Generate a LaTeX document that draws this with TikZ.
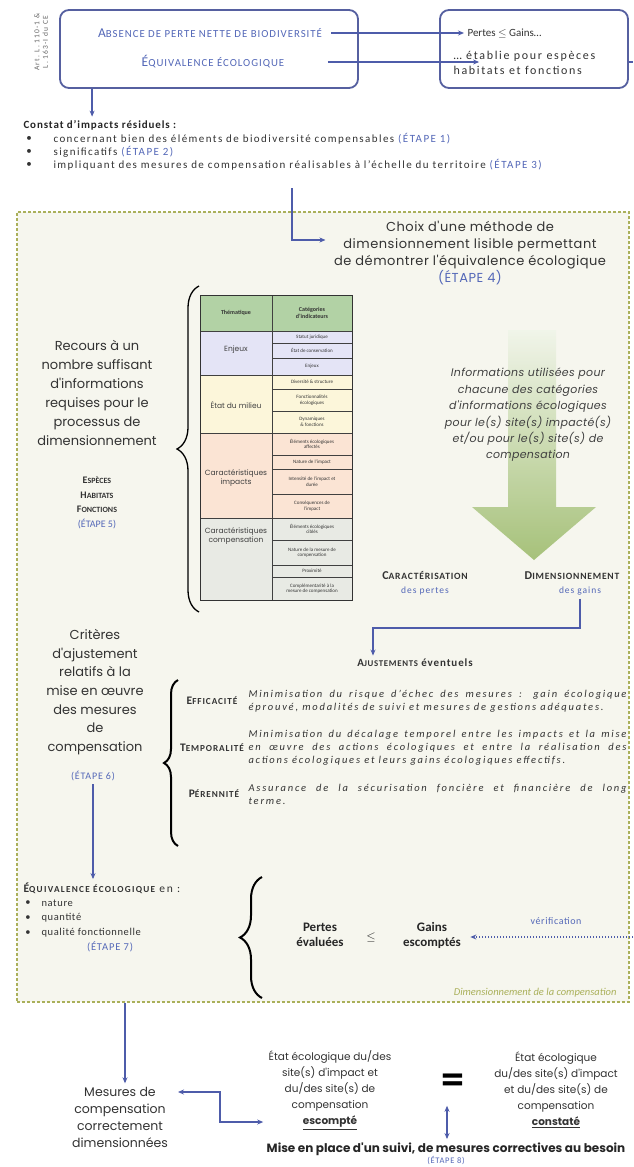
\documentclass[tikz,border=0pt]{standalone}
\usepackage{fontspec}
\setmainfont{Carlito}
\newfontfamily\gothic{Poppins}
\usetikzlibrary{arrows.meta,decorations.pathreplacing,positioning}

\definecolor{bleuetape}{RGB}{84,104,184}
\definecolor{bleutrait}{RGB}{78,92,170}
\definecolor{cadre}{RGB}{86,96,160}
\definecolor{olive}{RGB}{170,176,90}
\definecolor{fondzone}{RGB}{246,246,238}
\definecolor{vertfleche}{RGB}{158,188,110}
\definecolor{entete}{RGB}{178,210,165}
\definecolor{lilas}{RGB}{228,228,246}
\definecolor{creme}{RGB}{252,246,218}
\definecolor{peche}{RGB}{251,228,212}
\definecolor{grisclair}{RGB}{232,234,228}

\newcommand\etape[1]{\textcolor{bleuetape}{(ÉTAPE~#1)}}
\newcommand\esp[1]{\addfontfeature{LetterSpace=#1}}
\makeatletter
\newcommand\pc[1]{{\@tempdima=\f@size pt\@tempdima=0.8\@tempdima
  \fontsize{\strip@pt\@tempdima}{\f@baselineskip}\selectfont #1}}
\makeatother

\begin{document}
\begin{tikzpicture}[x=1pt, y=-1pt,
  fleche/.style={-{Stealth[length=6pt,width=5pt]}, draw=bleutrait, line width=1.4pt},
  dblfleche/.style={{Stealth[length=6pt,width=5pt]}-{Stealth[length=6pt,width=5pt]}, draw=bleutrait, line width=1.4pt},
  cadrebleu/.style={draw=cadre, line width=1.8pt, rounded corners=9pt},
  gros/.style={font=\gothic\fontsize{13}{19}\selectfont, align=center, text=black!80},
  petit/.style={font=\fontsize{11}{13}\selectfont\esp{13}, text=black!80},
  cellule/.style={font=\fontsize{5}{5.6}\selectfont, align=center, inner sep=0pt, text=black!80},
  theme/.style={font=\gothic\fontsize{7.5}{9}\selectfont, align=center, text=black!75},
  critere/.style={font=\bfseries\fontsize{11.5}{12}\selectfont\esp{10}, text=black!80},
  desc/.style={font=\itshape\fontsize{10.5}{13}\selectfont\esp{17}, text width=378pt, align=justify, anchor=west, text=black!80},
  accolade/.style={decorate, decoration={brace, amplitude=#1}, line width=1.6pt}]

\useasboundingbox (0,0) rectangle (633,1167);
\fill[white] (0,0) rectangle (633,1167);

% Cadre du haut
\node[rotate=90, font=\fontsize{7.5}{8.5}\selectfont\esp{15}, align=center, text=black!60] (article) at (41,42) {Art. L. 110-1 \&\\L. 163-I du CE};
\node[cadrebleu, minimum width=298, minimum height=78] (boite1) at (209,49) {};
\node[font=\fontsize{13.5}{14}\selectfont\esp{9}, text=bleuetape] (absence) at (210,33) {A\pc{BSENCE DE PERTE NETTE DE BIODIVERSITÉ}};
\node[font=\fontsize{13.5}{14}\selectfont\esp{9}, text=bleuetape] (equiv) at (213,62) {É\pc{QUIVALENCE ÉCOLOGIQUE}};
\node[cadrebleu, minimum width=188, minimum height=78] (boite2) at (534,49) {};
\node[font=\fontsize{11}{13}\selectfont, text=black!80, anchor=west] (pertesgains) at (464,33) {Pertes $\leq$ Gains…};
\node[font=\fontsize{12}{15}\selectfont\esp{14}, text=black!80, align=left, anchor=west] (etablie) at (450,63) {… établie pour espèces\\habitats et fonctions};
\draw[fleche] ([xshift=6pt]absence.east) -- (pertesgains.west);
\draw[fleche] ([xshift=40pt]equiv.east) -- ([xshift=40pt]equiv.east -| boite2.west);
\coordinate (bordd) at (633,62);
\draw[bleutrait, line width=1.4pt] (boite2.east |- bordd) -- (bordd);

% Constat
\node[font=\bfseries\fontsize{11}{13}\selectfont\esp{8}, text=black!85, anchor=west] (constat) at (20,125) {Constat d'impacts résiduels :};
\draw[fleche] ([xshift=33pt]boite1.south west) -- ([xshift=33pt]boite1.south west |- constat.north);
\node[petit] (puce1) at (29,139) {•};
\node[petit, anchor=west] (ligne1) at (50,139) {concernant bien des éléments de biodiversité compensables \etape{1}};
\node[petit] (puce2) at (29,152) {•};
\node[petit, anchor=west] (ligne2) at (50,152) {significatifs \etape{2}};
\node[petit] (puce3) at (29,165) {•};
\node[petit, anchor=west] (ligne3) at (50,165) {impliquant des mesures de compensation réalisables à l'échelle du territoire \etape{3}};

% Zone de dimensionnement
\node[draw=olive, fill=fondzone, dash pattern=on 3pt off 2pt, line width=1.2pt, minimum width=612, minimum height=790] (zone) at (323,607) {};
\node[gros, font=\gothic\fontsize{13}{17}\selectfont\esp{4}] (choix) at (470,253) {Choix d'une méthode de\\dimensionnement lisible permettant\\de démontrer l'équivalence écologique\\\etape{4}};
\coordinate (depart) at (292,188);
\draw[fleche] (depart) |- ([xshift=-5pt]choix.west |- 0,240);

\node[gros] (recours) at (97,393) {Recours à un\\nombre suffisant\\d'informations\\requises pour le\\processus de\\dimensionnement};
\node[font=\bfseries\fontsize{10}{14.5}\selectfont, align=center, text=black!80] (especes) at (97,503) {E\pc{SPÈCES}\\H\pc{ABITATS}\\F\pc{ONCTIONS}\\\mdseries\etape{5}};
\draw[accolade=22, line width=1.3pt] (199,612) -- (199,286);

% Tableau
\fill[entete] (200,295) rectangle (352,331);
\draw[black!75, line width=0.7pt] (272,295) -- (272,331);
\node[font=\bfseries\fontsize{6}{7}\selectfont, text=black!80] (thema) at (236,313) {Thématique};
\node[font=\bfseries\fontsize{6}{7}\selectfont, align=center, text=black!80] (categ) at (312,313) {Catégories\\d'indicateurs};
\foreach \ya/\yb/\coul in {331/375/lilas, 375/433/creme, 433/518/peche, 518/600/grisclair} {
  \filldraw[fill=\coul, draw=black!75, line width=0.7pt] (200,\ya) rectangle (272,\yb);
}
\node[theme] (enjeux) at (236,350) {Enjeux};
\node[theme] (milieu) at (236,405) {État du milieu};
\node[theme] (impacts) at (236,478) {Caractéristiques\\impacts};
\node[theme] (compens) at (236,536) {Caractéristiques\\compensation};
\foreach \ya/\yb/\coul/\txt [count=\i] in {
  331/343/lilas/{Statut juridique},
  343/358/lilas/{État de conservation},
  358/375/lilas/{Enjeux},
  375/389/creme/{Diversité \& structure},
  389/411/creme/{Fonctionnalités\\écologiques},
  411/433/creme/{Dynamiques\\\& fonctions},
  433/455/peche/{Éléments écologiques\\affectés},
  455/469/peche/{Nature de l'impact},
  469/494/peche/{Intensité de l'impact et\\durée},
  494/518/peche/{Conséquences de\\l'impact},
  518/540/grisclair/{Éléments écologiques\\ciblés},
  540/565/grisclair/{Nature de la mesure de\\compensation},
  565/577/grisclair/{Proximité},
  577/600/grisclair/{Complémentarité à la\\mesure de compensation}} {
  \filldraw[fill=\coul, draw=black!75, line width=0.6pt] (272,\ya) rectangle (352,\yb);
  \node[cellule] (cat\i) at (312,{(\ya+\yb)/2}) {\txt};
}
\draw[black!80, line width=1pt] (200,295) rectangle (352,600);

% Grande fleche verte
\shade[top color=vertfleche!15, bottom color=vertfleche, opacity=0.9]
  (508,330) -- (556,330) -- (556,507) -- (596,507) -- (534,560) -- (472,507) -- (508,507) -- cycle;
\node[font=\gothic\itshape\fontsize{11}{16.4}\selectfont\esp{3}, align=center, text=black!75] (infos) at (528,415) {Informations utilisées pour\\chacune des catégories\\d'informations écologiques\\pour le(s) site(s) impacté(s)\\et/ou pour le(s) site(s) de\\compensation};
\node[font=\bfseries\fontsize{12}{13}\selectfont\esp{8}, text=black!80] (caract) at (425,576) {C\pc{ARACTÉRISATION}};
\node[font=\fontsize{9.5}{11}\selectfont\esp{10}, text=bleuetape] (pertes) at (425,591) {des pertes};
\node[font=\bfseries\fontsize{12}{13}\selectfont\esp{8}, text=black!80] (dimens) at (572,576) {D\pc{IMENSIONNEMENT}};
\node[font=\fontsize{9.5}{11}\selectfont\esp{10}, text=bleuetape] (gains) at (580,591) {des gains};

% Ajustements
\node[font=\bfseries\fontsize{11}{12}\selectfont\esp{8}, text=black!80] (ajust) at (415,663) {A\pc{JUSTEMENTS} éventuels};
\coordinate (coude) at (373,628);
\draw[fleche] (gains.south) |- (coude) -- (coude |- ajust.north);

\node[gros, font=\gothic\fontsize{13}{18.6}\selectfont] (criteres) at (95,692) {Critères\\d'ajustement\\relatifs à la\\mise en œuvre\\des mesures\\de\\compensation};
\node[font=\fontsize{10}{12}\selectfont\esp{8}] (etape6) at (93,776) {\etape{6}};
\draw[accolade=14, line width=2pt] (178,846) -- (178,680);
\node[critere] (efficacite) at (212,701) {E\pc{FFICACITÉ}};
\node[critere] (temporalite) at (212,748) {T\pc{EMPORALITÉ}};
\node[critere] (perennite) at (214,794) {P\pc{ÉRENNITÉ}};
\node[desc] (desc1) at (245,701) {Minimisation du risque d'échec des mesures : gain écologique éprouvé, modalités de suivi et mesures de gestions adéquates.};
\node[desc] (desc2) at (245,748) {Minimisation du décalage temporel entre les impacts et la mise\linebreak en œuvre des actions écologiques et entre la réalisation des\linebreak actions écologiques et leurs gains écologiques effectifs.};
\node[desc] (desc3) at (245,794) {Assurance de la sécurisation foncière et financière de long\linebreak terme.};

% Equivalence
\node[font=\fontsize{11.5}{12}\selectfont\esp{14}, anchor=west, text=black!80] (equivtitre) at (20,888) {\bfseries É\pc{QUIVALENCE ÉCOLOGIQUE} \mdseries en :};
\draw[fleche] (etape6.south) -- (etape6.south |- equivtitre.north);
\node[font=\fontsize{10.5}{12}\selectfont\esp{6}, text=black!80] (puce4) at (28,903) {•};
\node[font=\fontsize{10.5}{12}\selectfont\esp{6}, text=black!80, anchor=west] (nature) at (38,903) {nature};
\node[font=\fontsize{10.5}{12}\selectfont\esp{6}, text=black!80] (puce5) at (28,918) {•};
\node[font=\fontsize{10.5}{12}\selectfont\esp{6}, text=black!80, anchor=west] (quantite) at (38,918) {quantité};
\node[font=\fontsize{10.5}{12}\selectfont\esp{6}, text=black!80] (puce6) at (28,933) {•};
\node[font=\fontsize{10.5}{12}\selectfont\esp{6}, text=black!80, anchor=west] (qualite) at (38,933) {qualité fonctionnelle};
\node[font=\fontsize{10.5}{12}\selectfont\esp{8}] (etape7) at (110,947) {\etape{7}};
\draw[accolade=22, line width=2pt] (262,998) -- (262,877);
\node[font=\bfseries\fontsize{13}{15}\selectfont, align=center, text=black!85] (pertesev) at (320,935) {Pertes\\évaluées};
\node[font=\bfseries\fontsize{13}{15}\selectfont, text=black!85] (inf) at (371,937) {$\leq$};
\node[font=\bfseries\fontsize{13}{15}\selectfont, align=center, text=black!85] (gainsesc) at (432,935) {Gains\\escomptés};
\coordinate (bordv) at (633,937);
\node[font=\fontsize{10}{12}\selectfont\esp{6}, text=bleuetape] (verif) at (556,921) {vérification};
\draw[fleche, dash pattern=on 1.5pt off 1.5pt] (bordv) -- ([xshift=6pt]gainsesc.east |- bordv);
\node[font=\itshape\fontsize{10.5}{12}\selectfont, text=olive, anchor=east] (titrezone) at (620,993) {Dimensionnement de la compensation};

% Bas
\node[gros, font=\gothic\fontsize{12.5}{17}\selectfont] (mesures) at (120,1117) {Mesures de\\compensation\\correctement\\dimensionnées};
\draw[fleche] (zone.south -| 125,0) -- (mesures.north -| 125,0);
\node[font=\gothic\fontsize{10.5}{16}\selectfont, align=center, text=black!80] (etat1) at (330,1090) {État écologique du/des\\site(s) d'impact et\\du/des site(s) de\\compensation\\\textbf{\underline{escompté}}};
\node[font=\bfseries\fontsize{46}{46}\selectfont, text=black] (egal) at (453,1084) {=};
\node[font=\gothic\fontsize{10.5}{16}\selectfont, align=center, text=black!80] (etat2) at (556,1090) {État écologique\\du/des site(s) d'impact\\et du/des site(s) de\\compensation\\\textbf{\underline{constaté}}};
\coordinate (gauche) at (178,1092);
\draw[dblfleche] (gauche) -- ++(42,0) |- ([xshift=-2pt]etat1.west |- 0,1122);
\node[font=\gothic\bfseries\fontsize{12}{12}\selectfont, text=black!85] (suivi) at (446,1149) {Mise en place d'un suivi, de mesures correctives au besoin};
\node[font=\fontsize{8.5}{10}\selectfont\esp{8}] (etape8) at (446,1161) {\etape{8}};
\draw[dblfleche] ([yshift=-8pt]egal.south -| 447,0) -- (suivi.north -| 447,0);

\end{tikzpicture}
\end{document}
